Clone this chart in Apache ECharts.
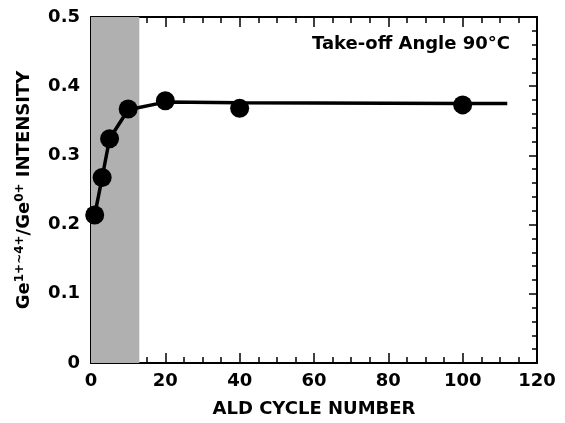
<!DOCTYPE html>
<html>
<head>
<meta charset="utf-8">
<script src="https://cdn.jsdelivr.net/npm/echarts@6/dist/echarts.min.js"></script>
<style>
html, body { margin: 0; padding: 0; background: #fff; }
#main { width: 565px; height: 423px; }
</style>
</head>
<body>
<div id="main"></div>
<script>
// measured points
var cycles = [1, 3, 5, 10, 20, 40, 100];
var intensity = [0.214, 0.268, 0.324, 0.367, 0.379, 0.368, 0.373];
// drawn fit line
var fitX = [1, 3, 5, 10, 20, 40, 100, 112];
var fitY = [0.214, 0.268, 0.324, 0.366, 0.377, 0.376, 0.375, 0.375];
var shadeEnd = 13;

var font = 'DejaVu Sans, sans-serif';
var chart = echarts.init(document.getElementById('main'));

var tickStyle = { color: '#000', width: 1.5 };
var lineStyle = { color: '#000', width: 2 };

chart.setOption({
    animation: false,
    grid: { left: 91, right: 28, top: 17, bottom: 57 },
    xAxis: [
        {
            type: 'value', min: 0, max: 120, interval: 20,
            axisLine: { onZero: false, lineStyle: lineStyle },
            axisTick: { inside: true, length: 10, lineStyle: tickStyle },
            minorTick: { show: true, splitNumber: 4, length: 6, lineStyle: tickStyle },
            splitLine: { show: false },
            axisLabel: { color: '#000', fontFamily: font, fontWeight: 'bold', fontSize: 18, margin: 9 },
            name: 'ALD CYCLE NUMBER',
            nameLocation: 'middle',
            nameGap: 37,
            nameTextStyle: { color: '#000', fontFamily: font, fontWeight: 'bold', fontSize: 18 }
        },
        {
            type: 'value', position: 'top', min: 0, max: 120, interval: 20,
            axisLine: { onZero: false, lineStyle: lineStyle },
            axisTick: { inside: true, length: 10, lineStyle: tickStyle },
            minorTick: { show: true, splitNumber: 4, length: 6, lineStyle: tickStyle },
            splitLine: { show: false },
            axisLabel: { show: false }
        }
    ],
    yAxis: [
        {
            type: 'value', min: 0, max: 0.5, interval: 0.1,
            axisLine: { onZero: false, lineStyle: lineStyle },
            axisTick: { inside: true, length: 8, lineStyle: tickStyle },
            minorTick: { show: true, splitNumber: 5, length: 5, lineStyle: tickStyle },
            splitLine: { show: false },
            axisLabel: {
                color: '#000', fontFamily: font, fontWeight: 'bold', fontSize: 18, margin: 11,
                formatter: function (v) { return v === 0 ? '0' : v.toFixed(1); }
            },
            name: 'Ge{sup|1+~4+}/Ge{sup|0+} INTENSITY',
            nameLocation: 'middle',
            nameGap: 57,
            nameRotate: 90,
            nameTextStyle: {
                color: '#000', fontFamily: font, fontWeight: 'bold', fontSize: 18,
                rich: {
                    sup: { color: '#000', fontFamily: font, fontWeight: 'bold', fontSize: 12, verticalAlign: 'top', padding: [0, 0, 8, 0] }
                }
            }
        },
        {
            type: 'value', position: 'right', min: 0, max: 0.5, interval: 0.1,
            axisLine: { onZero: false, lineStyle: lineStyle },
            axisTick: { inside: true, length: 8, lineStyle: tickStyle },
            minorTick: { show: true, splitNumber: 5, length: 5, lineStyle: tickStyle },
            splitLine: { show: false },
            axisLabel: { show: false }
        }
    ],
    graphic: [{
        type: 'text',
        left: 312, top: 35,
        style: { text: 'Take-off Angle 90°C', fill: '#000', font: 'bold 18px ' + font }
    }],
    series: [
        {
            type: 'line',
            data: fitX.map(function (x, i) { return [x, fitY[i]]; }),
            showSymbol: false,
            lineStyle: { color: '#000', width: 3.5 },
            markArea: {
                silent: true,
                itemStyle: { color: '#b0b0b0' },
                data: [[{ xAxis: 0 }, { xAxis: shadeEnd }]]
            },
            z: 2
        },
        {
            type: 'scatter',
            data: cycles.map(function (x, i) { return [x, intensity[i]]; }),
            symbol: 'circle',
            symbolSize: 19,
            itemStyle: { color: '#000', opacity: 1 },
            z: 3
        }
    ]
});
</script>
</body>
</html>
